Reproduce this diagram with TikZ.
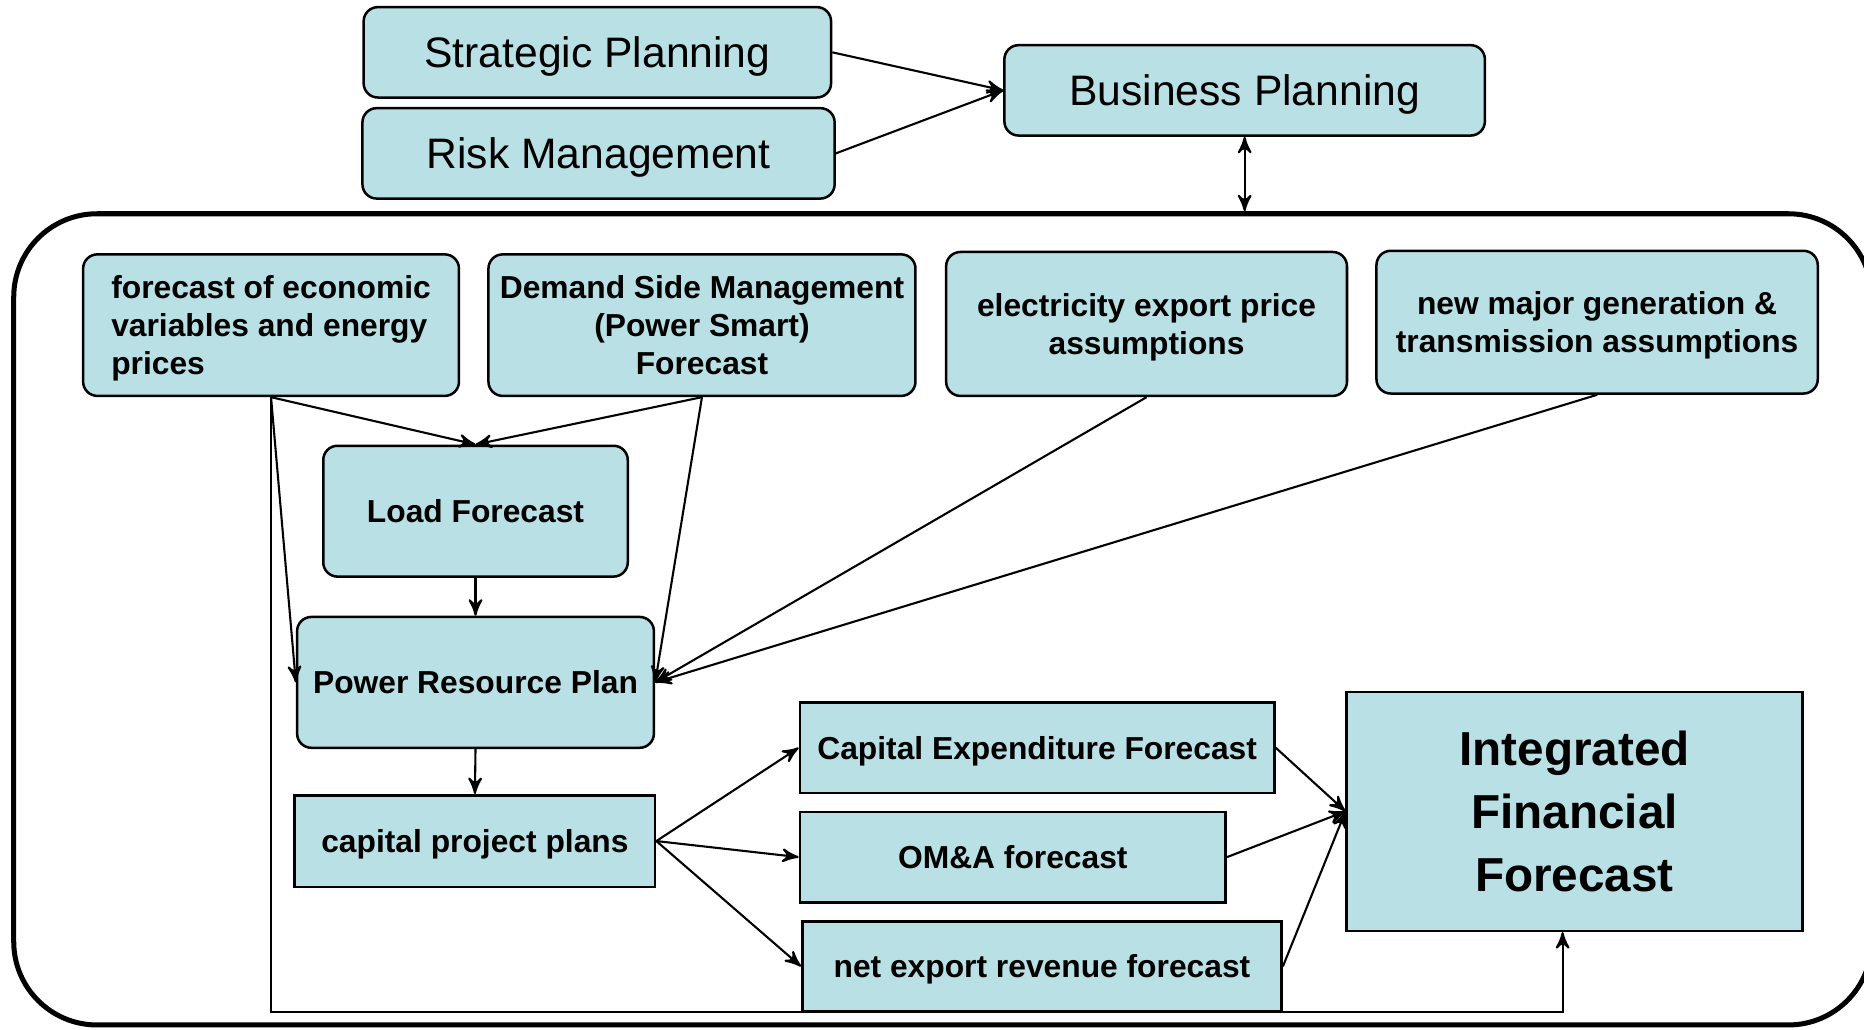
\documentclass[tikz,border=0pt]{standalone}
\usepackage{fontspec}
\setmainfont{Liberation Sans}
\usetikzlibrary{arrows}
\definecolor{boxblue}{RGB}{185,224,228}

\begin{document}
\begin{tikzpicture}[>=stealth',           % arrow tip
                    x=0.01cm, y=-0.01cm,   % pixel grid
                    rbox/.style={draw, fill=boxblue, rounded corners=1.2mm, line width=0.6pt, inner sep=0pt, text depth=0pt},
                    sbox/.style={draw, fill=boxblue, line width=0.6pt, inner sep=0pt, text depth=0pt},
                    big/.style={font=\fontsize{10.2pt}{12pt}\selectfont},
                    small/.style={font=\bfseries\fontsize{7.6pt}{9.1pt}\selectfont},
                    huge/.style={font=\bfseries\fontsize{11.4pt}{15.1pt}\selectfont},
                    link/.style={->, line width=0.5pt}
                    ]

\useasboundingbox (0,0) rectangle (1568,866);

% outer frame
\node[draw, line width=1.2pt, rounded corners=7mm, minimum width=15.62cm, minimum height=6.82cm, inner sep=0pt] (frame) at (793,521) {};
\coordinate (botline) at (0,851);

% planning
\node[rbox, big, minimum width=3.93cm, minimum height=0.76cm] (strat) at (502.5,44) {Strategic Planning};
\node[rbox, big, minimum width=3.97cm, minimum height=0.76cm] (risk) at (503.5,129) {Risk Management};
\node[rbox, big, minimum width=4.04cm, minimum height=0.76cm] (bus) at (1047,76) {Business Planning};

\draw[link] (strat.east) -- (bus.west);
\draw[link] (risk.east) -- (bus.west);
\draw[<->, line width=0.5pt] (bus.south) -- (bus.south |- frame.north);

% inputs
\node[rbox, small, align=left, minimum width=3.16cm, minimum height=1.19cm] (econ) at (228,273.5) {forecast of economic\\variables and energy\\prices};
\node[rbox, small, align=center, minimum width=3.59cm, minimum height=1.19cm] (dsm) at (590.5,273.5) {Demand Side Management\\(Power Smart)\\Forecast};
\node[rbox, small, align=center, minimum width=3.37cm, minimum height=1.21cm] (export) at (964.5,272.5) {electricity export price\\assumptions};
\node[rbox, small, align=center, minimum width=3.71cm, minimum height=1.20cm] (newgen) at (1343.5,271) {new major generation \&\\transmission assumptions};

% plans
\node[rbox, small, minimum width=2.56cm, minimum height=1.10cm] (load) at (400,430) {Load Forecast};
\node[rbox, small, minimum width=3.00cm, minimum height=1.10cm] (prp) at (400,574) {Power Resource Plan};
\node[sbox, small, minimum width=3.03cm, minimum height=0.77cm] (cpp) at (399.5,707.5) {capital project plans};

\draw[link] (econ.south) -- (load.north);
\draw[link] (dsm.south) -- (load.north);
\draw[link] (econ.south) -- (prp.west);
\draw[link] (dsm.south) -- (prp.east);
\draw[link] (export.south) -- (prp.east);
\draw[link] (newgen.south) -- (prp.east);
\draw[link] (load.south) -- (prp.north);
\draw[link] (prp.south) -- (cpp.north);

% forecasts
\node[sbox, small, minimum width=3.99cm, minimum height=0.76cm] (capex) at (872.5,629) {Capital Expenditure Forecast};
\node[sbox, small, minimum width=3.58cm, minimum height=0.76cm] (oma) at (852,721) {OM\&A forecast};
\node[sbox, small, minimum width=4.03cm, minimum height=0.76cm] (netexp) at (876.5,813) {net export revenue forecast};
\node[sbox, huge, align=center, minimum width=3.83cm, minimum height=2.01cm] (iff) at (1324.5,682.5) {Integrated\\Financial\\Forecast};

\draw[link] (cpp.east) -- (capex.west);
\draw[link] (cpp.east) -- (oma.west);
\draw[link] (cpp.east) -- (netexp.west);
\draw[link] (capex.east) -- (iff.west);
\draw[link] (oma.east) -- (iff.west);
\draw[link] (netexp.east) -- (iff.west);
\draw[link] (econ.south) -- (econ.south |- botline) -| ([xshift=-0.1cm]iff.south);

\end{tikzpicture}
\end{document}
